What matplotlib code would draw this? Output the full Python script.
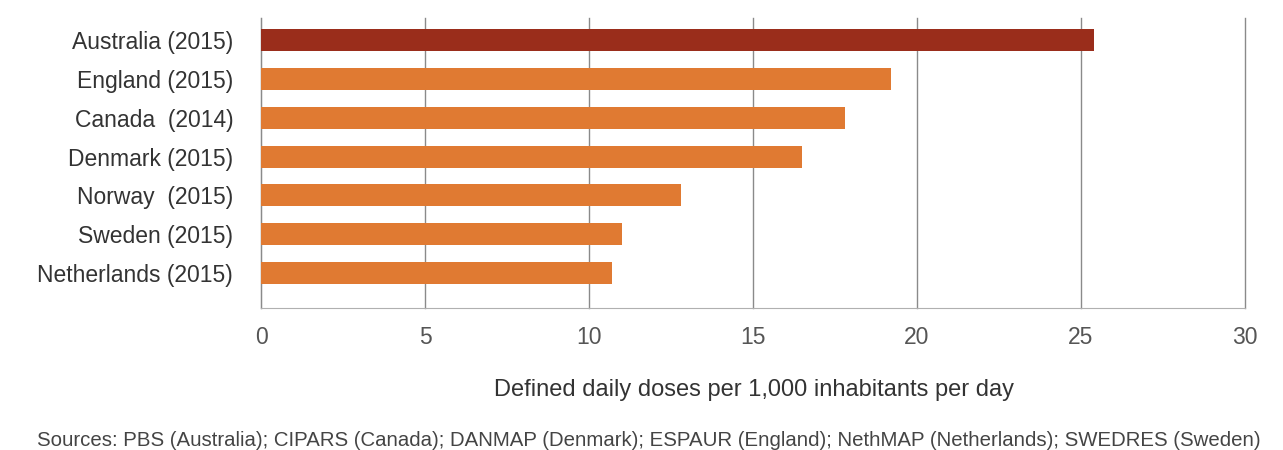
import matplotlib.pyplot as plt
import numpy as np

# data
countries = ['Netherlands (2015)', 'Sweden (2015)', 'Norway  (2015)', 'Denmark (2015)',
             'Canada  (2014)', 'England (2015)', 'Australia (2015)']
ddd = [10.7, 11.0, 12.8, 16.5, 17.8, 19.2, 25.4]
colors = ['#E07A32'] * 6 + ['#9A2D1B']
x_ticks = [0, 5, 10, 15, 20, 25, 30]

plt.rcParams['font.family'] = ['Liberation Sans', 'DejaVu Sans']

fig = plt.figure(figsize=(12.83, 4.5), dpi=100)
ax = fig.add_axes([261 / 1283, 1 - 308 / 450, (1245 - 261) / 1283, (308 - 18) / 450])

y = np.arange(len(countries))
ax.barh(y, ddd, height=0.57, color=colors, zorder=3)

ax.set_xlim(0, 30)
ax.set_ylim(-0.9, 6.57)
ax.set_xticks(x_ticks)
ax.set_xticklabels([str(t) for t in x_ticks], fontsize=16.5, color='#555555')
ax.set_yticks(y)
ax.set_yticklabels(countries, fontsize=16.5, color='#333333')
ax.tick_params(axis='x', length=0, pad=13)
ax.tick_params(axis='y', length=0, pad=20)

ax.grid(axis='x', color='#8a8a8a', linewidth=1, zorder=0)
for gl in ax.get_xgridlines():
    gl.set_clip_on(False)
for s in ['top', 'right']:
    ax.spines[s].set_visible(False)
ax.spines['left'].set_color('#8a8a8a')
ax.spines['bottom'].set_color('#b0b0b0')

ax.set_xlabel('Defined daily doses per 1,000 inhabitants per day', fontsize=17,
              color='#333333')
ax.xaxis.set_label_coords(0.501, -0.245)

fig.text(649 / 1283, 1 - 440 / 450,
         'Sources: PBS (Australia); CIPARS (Canada); DANMAP (Denmark); ESPAUR (England); '
         'NethMAP (Netherlands); SWEDRES (Sweden)',
         ha='center', va='center', fontsize=14.7, color='#444444',
         family=['Liberation Sans Narrow', 'Liberation Sans', 'DejaVu Sans'])

fig.savefig('out.png', dpi=100)
